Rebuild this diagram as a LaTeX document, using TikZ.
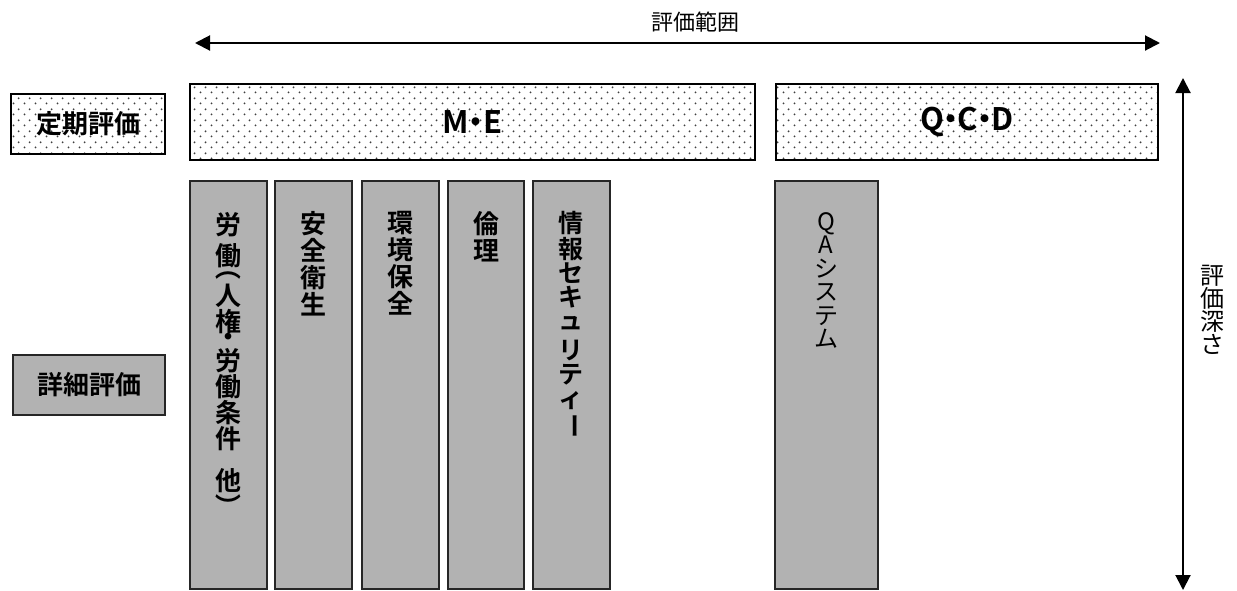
\documentclass[tikz,border=0pt]{standalone}
\usepackage{fontspec}
\usepackage{graphicx}
\setmainfont{Noto Sans CJK JP}[BoldFont={Noto Sans CJK JP Bold}]
\usetikzlibrary{arrows.meta,patterns.meta}
\definecolor{boxgray}{RGB}{178,178,178}
\tikzdeclarepattern{
  name=sdots,
  bottom left={(0pt,0pt)},
  top right={(11pt,11pt)},
  tile size={(11pt,11pt)},
  code={\fill (2.75pt,2.75pt) circle (1.1pt); \fill (8.25pt,8.25pt) circle (1.1pt);}
}
\tikzset{
  dotbox/.style={draw, line width=1.5pt, pattern=sdots, pattern color=black!75, inner sep=0pt},
  graybox/.style={draw=black!85, line width=1.5pt, fill=boxgray, inner sep=0pt},
  coltext/.style={inner sep=0pt, align=center, anchor=north, font=\bfseries\fontsize{26}{27}\selectfont},
  colch/.style={inner sep=0pt, font=\bfseries\fontsize{26}{27}\selectfont},
  arr/.style={line width=2pt, {Triangle[length=15pt,width=15pt]}-{Triangle[length=15pt,width=15pt]}},
  lbl/.style={inner sep=0pt, font=\fontsize{22}{23}\selectfont},
  head/.style={inner sep=0pt, font=\bfseries\fontsize{26}{28}\selectfont},
  headlat/.style={font=\bfseries\fontsize{31}{32}\selectfont},
}
\newcommand{\vchoon}{\rotatebox[origin=c]{-90}{ー}}
\newcommand{\vdot}{\kern-0.28em・\kern-0.28em}
\begin{document}
\begin{tikzpicture}[x=1pt,y=-1pt]
\useasboundingbox (0,0) rectangle (1237,590);
% top arrow
\coordinate (hl) at (195,43);
\coordinate (hr) at (1160,43);
\draw[arr] (hl) -- (hr);
\node[lbl] (hlab) at (695,22) {評価範囲};
% right arrow
\coordinate (vt) at (1183,78);
\coordinate (vb) at (1183,590);
\draw[arr] (vt) -- (vb);
\node[lbl, align=center, font=\fontsize{24}{23}\selectfont] (vlab) at (1212,310) {評\\価\\深\\さ};
% level labels
\node[dotbox, minimum width=154, minimum height=60, head] (teiki) at (88,124) {定期評価};
\node[graybox, minimum width=152, minimum height=60, head] (shosai) at (89,385) {詳細評価};
% top boxes
\node[dotbox, minimum width=565, minimum height=76, headlat] (me) at (472.5,122) {M\vdot E};
\node[dotbox, minimum width=382, minimum height=76, headlat] (qcd) at (967,122) {Q\vdot C\vdot D};
% columns
\node[graybox, minimum width=77, minimum height=408] (c1) at (228.5,385) {};
\node[graybox, minimum width=77, minimum height=408] (c2) at (313.5,385) {};
\node[graybox, minimum width=77, minimum height=408] (c3) at (400.5,385) {};
\node[graybox, minimum width=76, minimum height=408] (c4) at (486,385) {};
\node[graybox, minimum width=77, minimum height=408] (c5) at (571.5,385) {};
\node[graybox, minimum width=103, minimum height=408] (c6) at (826.5,385) {};
% column texts
\foreach \ch/\yy [count=\i] in {労/225, 働/256, {\rotatebox[origin=c]{-90}{（}}/267, 人/296, 権/322, ・/340, 労/361, 働/387, 条/413, 件/439, 他/481, {\rotatebox[origin=c]{-90}{）}}/506}
  \node[colch] (a\i) at (228,\yy) {\ch};
\node[coltext] (t2) at (313,211) {安\\全\\衛\\生};
\node[coltext] (t3) at (400,211) {環\\境\\保\\全};
\node[coltext] (t4) at (486,211) {倫\\理};
\foreach \ch/\yy [count=\i] in {情/223, 報/249, セ/273, キ/297, ュ/323, リ/350, テ/375, ィ/401, \vchoon/426}
  \node[colch, font=\bfseries\fontsize{25}{25}\selectfont] (b\i) at (571,\yy) {\ch};
\node[coltext, font=\fontsize{24}{23.5}\selectfont] (t6) at (826,212) {Q\\A\\シ\\ス\\テ\\ム};
\end{tikzpicture}
\end{document}
